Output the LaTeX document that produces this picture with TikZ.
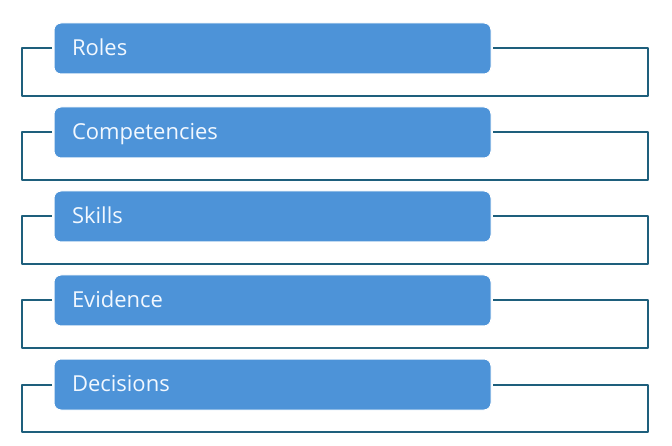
\documentclass[tikz,border=0pt]{standalone}
\usepackage{fontspec}
\setmainfont{Open Sans}
\definecolor{boxblue}{HTML}{4D93D8}
\definecolor{framecol}{HTML}{1E5F7C}
\definecolor{textwhite}{HTML}{F2F8FF}
\begin{document}
\begin{tikzpicture}[x=1pt, y=-1pt, line join=round,
  item/.style={fill=boxblue, draw=white, line width=1pt, rounded corners=7pt,
    minimum width=437pt, minimum height=51pt, text width=401pt, inner xsep=18pt,
    text height=19pt, text depth=5pt, align=left, text=textwhite,
    font=\fontsize{22}{26}\selectfont},
  frame/.style={draw=framecol, line width=2pt, shorten <=1.5pt, shorten >=1.5pt}]
  \useasboundingbox (0,0) rectangle (672,446);
  \foreach \name/\txt [count=\i] in {roles/Roles, comp/Competencies, skills/Skills, evid/Evidence, dec/Decisions}{
    \pgfmathsetmacro{\yc}{48.5+84*(\i-1)}
    \node[item] (\name) at (272.5,\yc) {\txt};
    \coordinate (\name-l) at (22,\yc+47.5);
    \coordinate (\name-r) at (648,\yc+47.5);
    \draw[frame] (\name.west) -| (\name-l) -- (\name-r) |- (\name.east);
  }
\end{tikzpicture}
\end{document}
